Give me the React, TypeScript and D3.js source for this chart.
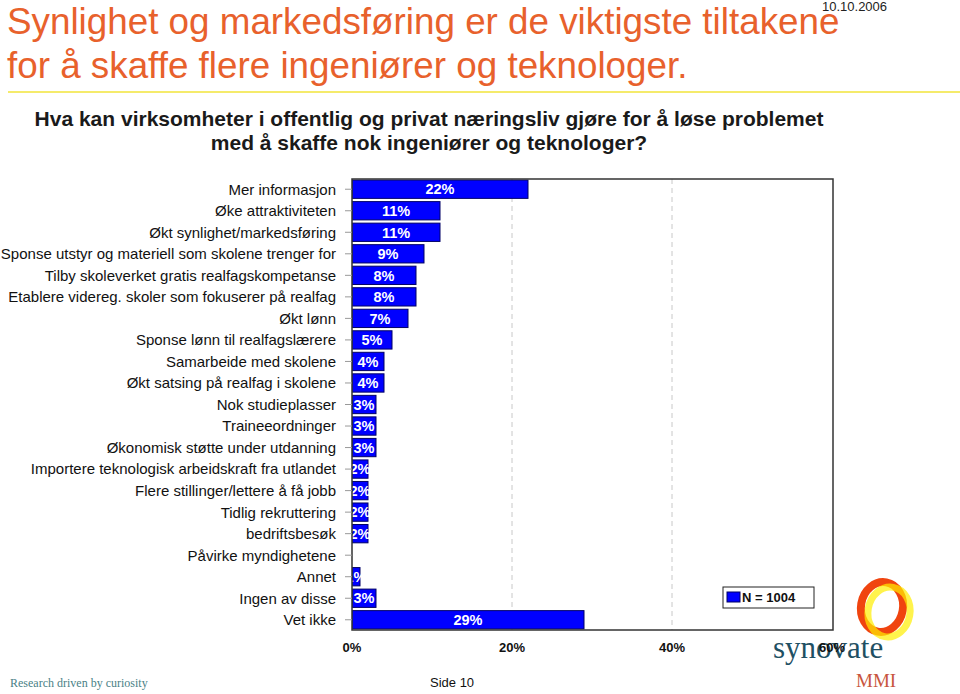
import * as d3 from 'd3'

const categories = [
  'Mer informasjon',
  'Øke attraktiviteten',
  'Økt synlighet/markedsføring',
  'Sponse utstyr og materiell som skolene trenger for',
  'Tilby skoleverket gratis realfagskompetanse',
  'Etablere videreg. skoler som fokuserer på realfag',
  'Økt lønn',
  'Sponse lønn til realfagslærere',
  'Samarbeide med skolene',
  'Økt satsing på realfag i skolene',
  'Nok studieplasser',
  'Traineeordninger',
  'Økonomisk støtte under utdanning',
  'Importere teknologisk arbeidskraft fra utlandet',
  'Flere stillinger/lettere å få jobb',
  'Tidlig rekruttering',
  'bedriftsbesøk',
  'Påvirke myndighetene',
  'Annet',
  'Ingen av disse',
  'Vet ikke',
]
const values = [22, 11, 11, 9, 8, 8, 7, 5, 4, 4, 3, 3, 3, 2, 2, 2, 2, 0, 1, 3, 29]
const xTicks = [0, 20, 40, 60]

const titleLines = [
  'Synlighet og markedsføring er de viktigste tiltakene',
  'for å skaffe flere ingeniører og teknologer.',
]
const questionLines = [
  'Hva kan virksomheter i offentlig og privat næringsliv gjøre for å løse problemet',
  'med å skaffe nok ingeniører og teknologer?',
]
const legendLabel = 'N = 1004'

const W = 960
const H = 694
const plot = { left: 352, right: 833, top: 179, bottom: 630 }
const font = 'Arial, "Liberation Sans", Helvetica, sans-serif'
const serif = '"Times New Roman", "Liberation Serif", serif'

export default function App() {
  const x = d3.scaleLinear().domain([0, 60]).range([plot.left, plot.right - 1])
  const y = d3.scaleBand<string>()
    .domain(categories)
    .range([plot.top, plot.bottom])
    .paddingInner(0.15)
    .paddingOuter(0.05)

  return (
    <svg width={W} height={H} viewBox={`0 0 ${W} ${H}`}
      style={{ position: 'absolute', left: 0, top: 0, background: '#fff' }}>
      <defs>
        <clipPath id='plot-clip'>
          <rect x={plot.left} y={plot.top} width={plot.right - plot.left} height={plot.bottom - plot.top} />
        </clipPath>
      </defs>

      {/* title */}
      {titleLines.map((t, i) => (
        <text key={t} x={7} y={34 + i * 44} fontFamily={font} fontSize={36.8} fill='#e8612c'>{t}</text>
      ))}
      <text x={822} y={11} fontFamily={font} fontSize={13} fill='#222'>10.10.2006</text>
      <line x1={8} x2={960} y1={92} y2={92} stroke='#f2e43a' strokeWidth={1.5} />
      {questionLines.map((t, i) => (
        <text key={t} x={429} y={126 + i * 24} textAnchor='middle' fontFamily={font}
          fontSize={21} fontWeight='bold' fill='#1a1a1a'>{t}</text>
      ))}

      {/* gridlines */}
      {xTicks.filter(v => v > 0 && v < 60).map(v => (
        <line key={v} x1={x(v)} x2={x(v)} y1={plot.top} y2={plot.bottom}
          stroke='#c8c8c8' strokeDasharray='5,4' strokeWidth={1} />
      ))}

      {/* bars */}
      <g clipPath='url(#plot-clip)'>
        {categories.map((c, i) => values[i] > 0 && (
          <g key={c}>
            <rect x={x(0)} y={y(c)} width={x(values[i]) - x(0)} height={y.bandwidth()}
              fill='#0000ff' stroke='#000066' strokeWidth={1} />
            <text x={(x(0) + x(values[i])) / 2} y={(y(c) ?? 0) + y.bandwidth() / 2}
              dy='0.36em' textAnchor='middle' fontFamily={font} fontSize={14.5}
              fontWeight='bold' fill='#fff'>{values[i]}%</text>
          </g>
        ))}
      </g>

      {/* frame */}
      <rect x={plot.left} y={plot.top} width={plot.right - plot.left} height={plot.bottom - plot.top}
        fill='none' stroke='#333' strokeWidth={1.5} />

      {/* y axis */}
      {categories.map(c => {
        const cy = (y(c) ?? 0) + y.bandwidth() / 2
        return (
          <g key={c}>
            <line x1={345} x2={plot.left} y1={cy} y2={cy} stroke='#999' />
            <text x={336} y={cy} dy='0.36em' textAnchor='end' fontFamily={font}
              fontSize={15} fill='#111'>{c}</text>
          </g>
        )
      })}

      {/* legend */}
      <rect x={723} y={587} width={91} height={21} fill='#fff' stroke='#222' strokeWidth={1} />
      <rect x={727} y={592} width={13} height={10} fill='#0000ff' stroke='#000066' />
      <text x={742} y={602} fontFamily={font} fontSize={13} fontWeight='bold' fill='#111'>{legendLabel}</text>

      {/* logo */}
      <ellipse cx={882} cy={607} rx={21} ry={25} fill='none' stroke='#f0440f' strokeWidth={8}
        transform='rotate(10 882 607)' />
      <ellipse cx={889} cy={612} rx={21} ry={25} fill='none' stroke='#ffee00' strokeWidth={7}
        transform='rotate(10 889 612)' opacity={0.7} />
      <text x={773} y={658} fontFamily={serif} fontSize={31} fill='#1f5063'>synovate</text>
      <text x={856} y={687} fontFamily={serif} fontSize={19} fill='#c8553d'>MMI</text>

      {/* x axis labels */}
      {xTicks.map(v => (
        <text key={v} x={x(v)} y={652} textAnchor='middle' fontFamily={font} fontSize={13}
          fontWeight='bold' fill='#111'>{v}%</text>
      ))}

      {/* footer */}
      <text x={10} y={687} fontFamily={serif} fontSize={12} fill='#4a7f86'>Research driven by curiosity</text>
      <text x={430} y={687} fontFamily={font} fontSize={13} fill='#111'>Side 10</text>
    </svg>
  )
}
